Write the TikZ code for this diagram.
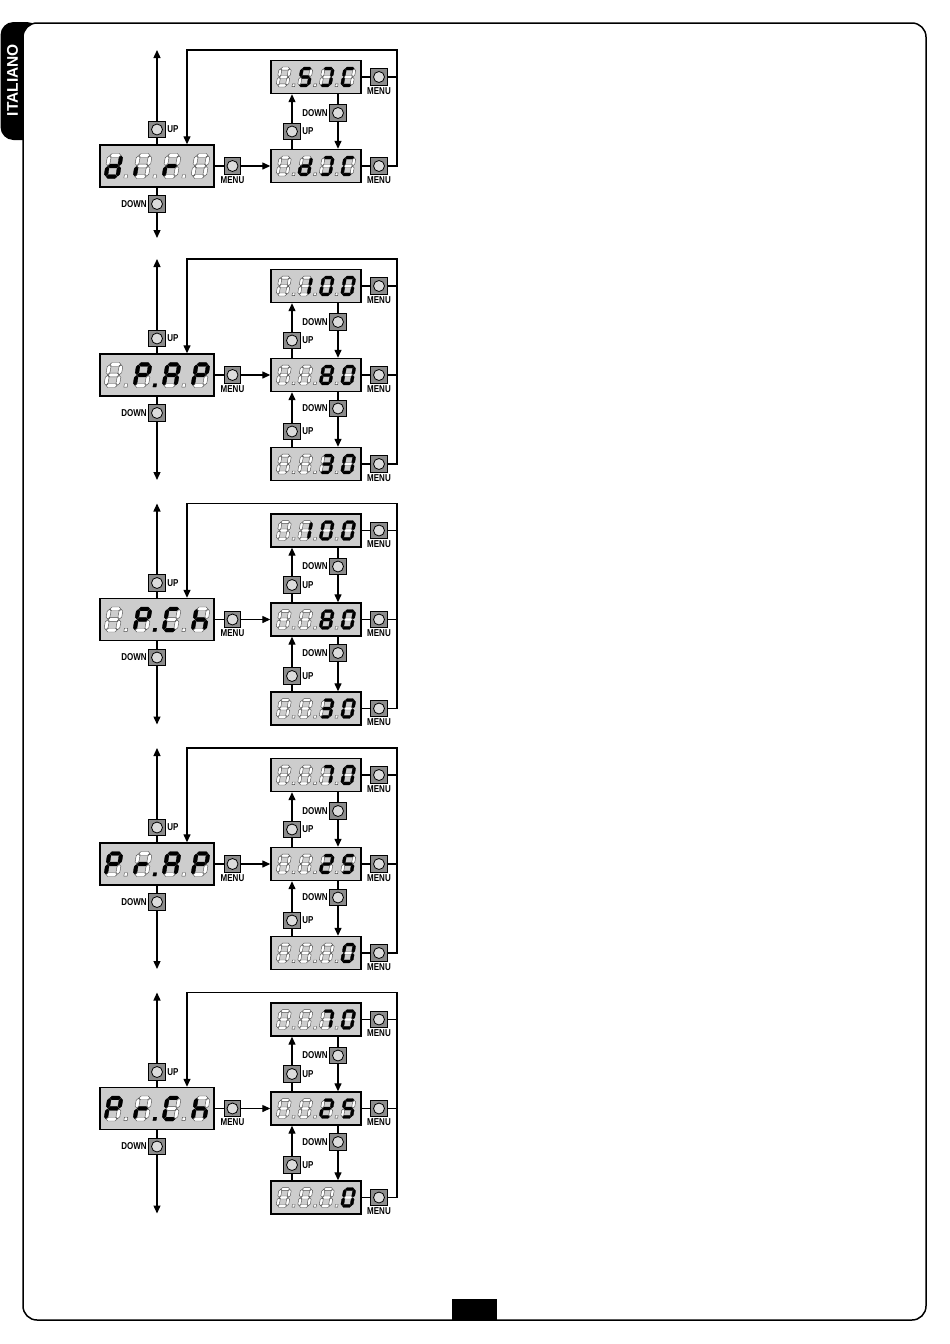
\documentclass[tikz,border=0pt]{standalone}
\usepackage{fontspec}
\setmainfont{Liberation Sans}
\newfontfamily\labfont[FakeStretch=0.8]{Liberation Sans}
\usetikzlibrary{arrows.meta}
\definecolor{dispgray}{HTML}{CDCDCD}
\definecolor{btngray}{HTML}{8C8C8C}
\definecolor{circgray}{HTML}{DCDCDC}
\makeatletter
\newcommand{\sg}[3]{\in@{#1}{#2}\ifin@\path[litseg] #3;\else\path[offseg] #3;\fi}
\makeatother
\newcommand{\dig}[5]{%
\begin{scope}[shift={(#1,#2)},xslant=0.18,scale=#3]
\sg{a}{#4}{(-4.6,-9)--(-3,-10.6)--(3,-10.6)--(4.6,-9)--(3,-7.4)--(-3,-7.4)--cycle}
\sg{g}{#4}{(-4.6,0)--(-3,-1.6)--(3,-1.6)--(4.6,0)--(3,1.6)--(-3,1.6)--cycle}
\sg{d}{#4}{(-4.6,9)--(-3,7.4)--(3,7.4)--(4.6,9)--(3,10.6)--(-3,10.6)--cycle}
\sg{f}{#4}{(-5,-8.6)--(-3.4,-7)--(-3.4,-2)--(-5,-0.4)--(-6.6,-2)--(-6.6,-7)--cycle}
\sg{b}{#4}{(5,-8.6)--(6.6,-7)--(6.6,-2)--(5,-0.4)--(3.4,-2)--(3.4,-7)--cycle}
\sg{e}{#4}{(-5,0.4)--(-3.4,2)--(-3.4,7)--(-5,8.6)--(-6.6,7)--(-6.6,2)--cycle}
\sg{c}{#4}{(5,0.4)--(6.6,2)--(6.6,7)--(5,8.6)--(3.4,7)--(3.4,2)--cycle}
\ifcase#5\or\path[offseg] (10.6,7.4) rectangle (13.4,10.2);\or\path[litseg] (10.6,7.4) rectangle (13.4,10.2);\fi
\end{scope}}
\def\dotsplit#1#2#3\relax{\def\dA{#1}\def\dB{#2}\def\dC{#3}}
\newcommand{\disp}[9]{%
\dotsplit#9\relax
\dig{#1-1.5*#4}{#2}{#3}{#5}{\dA}
\dig{#1-0.5*#4}{#2}{#3}{#6}{\dB}
\dig{#1+0.5*#4}{#2}{#3}{#7}{\dC}
\dig{#1+1.5*#4}{#2}{#3}{#8}{0}}
\newcommand{\LDsp}[6]{\disp{157}{#1}{1.18}{29}{#2}{#3}{#4}{#5}{#6}}
\newcommand{\RDsp}[5]{\disp{316}{#1}{0.94}{21.5}{#2}{#3}{#4}{#5}{111}}
\tikzset{
 ln/.style={line width=1.3pt, draw=black},
 arr/.style={ln, -{Triangle[length=8pt,width=7pt]}},
 ldisp/.style={draw, line width=1.4pt, fill=dispgray, minimum width=114pt, minimum height=42pt, inner sep=0pt},
 rdisp/.style={ldisp, minimum width=90pt, minimum height=33pt},
 btn/.style={draw, line width=0.9pt, fill=btngray, minimum size=16.5pt, inner sep=0pt,
   path picture={\draw[line width=0.8pt, fill=circgray] (path picture bounding box.center) circle (5.5pt);}},
 lbl/.style={font=\labfont\bfseries\fontsize{10}{10}\selectfont, inner sep=0pt},
 litseg/.style={fill=black, draw=black, line width=0.3pt},
 offseg/.style={fill=white, draw=black!70, line width=0.42pt},
}
% common part of a block: #1 id, #2 centre y, #3 bottom arrow offset
\newcommand{\blk}[3]{%
\node[ldisp] (L#1) at (157,#2) {};
\node[btn] (LU#1) at (157,#2-36.5) {};
\node[lbl,anchor=west] (LUl#1) at ([xshift=1.5pt]LU#1.east) {UP};
\node[btn] (LD#1) at (157,#2+38) {};
\node[lbl,anchor=east] (LDl#1) at ([xshift=-1.5pt]LD#1.west) {DOWN};
\coordinate (Tt#1) at (157,#2-116);
\coordinate (Tb#1) at (157,#2+#3);
\draw[ln] (L#1.north) -- (LU#1.south);
\draw[arr] (LU#1.north) -- (Tt#1);
\draw[ln] (L#1.south) -- (LD#1.north);
\draw[arr] (LD#1.south) -- (Tb#1);
\node[btn] (LM#1) at (232.5,#2) {};
\node[lbl,anchor=north] (LMl#1) at ([yshift=-1.5pt]LM#1.south) {MENU};
\draw[ln] (L#1.east) -- (LM#1.west);
\node[rdisp] (R0#1) at (316,#2) {};
\node[rdisp] (Ra#1) at (316,#2-89) {};
\draw[arr] (LM#1.east) -- (R0#1.west);
\node[btn] (RM0#1) at (379,#2) {};
\node[lbl,anchor=north] (RM0l#1) at ([yshift=-1.5pt]RM0#1.south) {MENU};
\node[btn] (RMa#1) at (379,#2-89) {};
\node[lbl,anchor=north] (RMal#1) at ([yshift=-1.5pt]RMa#1.south) {MENU};
\draw[ln] (R0#1.east) -- (RM0#1.west);
\draw[ln] (Ra#1.east) -- (RMa#1.west);
\coordinate (Ctr#1) at (397,#2-116);
\coordinate (Ctl#1) at (187,#2-116);
\draw[ln] (RMa#1.east) -- (RMa#1.east -| Ctr#1);
\node[btn] (UA#1) at (292,#2-34.5) {};
\node[lbl,anchor=west] (UAl#1) at ([xshift=1.5pt]UA#1.east) {UP};
\node[btn] (DA#1) at (338,#2-53) {};
\node[lbl,anchor=east] (DAl#1) at ([xshift=-1.5pt]DA#1.west) {DOWN};
\draw[ln] (R0#1.north -| UA#1) -- (UA#1.south);
\draw[arr] (UA#1.north) -- (UA#1 |- Ra#1.south);
\draw[ln] (Ra#1.south -| DA#1) -- (DA#1.north);
\draw[arr] (DA#1.south) -- (DA#1 |- R0#1.north);
}
\newcommand{\botpart}[2]{%
\node[rdisp] (Rb#1) at (316,#2+89) {};
\node[btn] (RMb#1) at (379,#2+89) {};
\node[lbl,anchor=north] (RMbl#1) at ([yshift=-1.5pt]RMb#1.south) {MENU};
\draw[ln] (Rb#1.east) -- (RMb#1.west);
\draw[ln] (RM0#1.east) -- (RM0#1.east -| Ctr#1);
\node[btn] (DB#1) at (338,#2+33.5) {};
\node[lbl,anchor=east] (DBl#1) at ([xshift=-1.5pt]DB#1.west) {DOWN};
\node[btn] (UB#1) at (292,#2+56.5) {};
\node[lbl,anchor=west] (UBl#1) at ([xshift=1.5pt]UB#1.east) {UP};
\draw[ln] (R0#1.south -| DB#1) -- (DB#1.north);
\draw[arr] (DB#1.south) -- (DB#1 |- Rb#1.north);
\draw[ln] (Rb#1.north -| UB#1) -- (UB#1.south);
\draw[arr] (UB#1.north) -- (UB#1 |- R0#1.south);
}
\newcommand{\loopfrom}[2]{%
\draw[arr] (#2.east) -- (#2.east -| Ctr#1) -- (Ctr#1) -- (Ctl#1) -- (Ctl#1 |- L#1.north);}
\begin{document}
\begin{tikzpicture}[x=1pt,y=-1pt]
\useasboundingbox (0,0) rectangle (950,1344);
% tab and frame
\fill[black, rounded corners=13pt] (0.5,22) rectangle (40,140);
\draw[line width=1.5pt, fill=white, rounded corners=14pt] (23,23) rectangle (926,1320);
\node[rotate=90, text=white, font=\bfseries\fontsize{15.5}{15.5}\selectfont, inner sep=0pt] (tab) at (12.5,80) {ITALIANO};
\fill[black] (452,1299) rectangle (497,1320);
% block 1
\blk{1}{166}{72}
\loopfrom{1}{RM01}
\LDsp{166}{bcdeg}{e}{eg}{}{111}
\RDsp{77}{}{acdfg}{abcd}{adef}
\RDsp{166}{}{bcdeg}{abcd}{adef}
% block 2
\blk{2}{375}{105}\botpart{2}{375}
\loopfrom{2}{RMb2}
\LDsp{375}{}{abefg}{abcefg}{abefg}{121}
\RDsp{286}{}{bc}{abcdef}{abcdef}
\RDsp{375}{}{}{abcdefg}{abcdef}
\RDsp{464}{}{}{abcdg}{abcdef}
% block 3
\blk{3}{619.5}{105}\botpart{3}{619.5}
\loopfrom{3}{RMb3}
\LDsp{619.5}{}{abefg}{adef}{cefg}{121}
\RDsp{530.5}{}{bc}{abcdef}{abcdef}
\RDsp{619.5}{}{}{abcdefg}{abcdef}
\RDsp{708.5}{}{}{abcdg}{abcdef}
% block 4
\blk{4}{864}{105}\botpart{4}{864}
\loopfrom{4}{RMb4}
\LDsp{864}{abefg}{eg}{abcefg}{abefg}{121}
\RDsp{775}{}{}{abc}{abcdef}
\RDsp{864}{}{}{abdeg}{acdfg}
\RDsp{953}{}{}{}{abcdef}
% block 5
\blk{5}{1108.5}{105}\botpart{5}{1108.5}
\loopfrom{5}{RMb5}
\LDsp{1108.5}{abefg}{eg}{adef}{cefg}{121}
\RDsp{1019.5}{}{}{abc}{abcdef}
\RDsp{1108.5}{}{}{abdeg}{acdfg}
\RDsp{1197.5}{}{}{}{abcdef}
\end{tikzpicture}
\end{document}
